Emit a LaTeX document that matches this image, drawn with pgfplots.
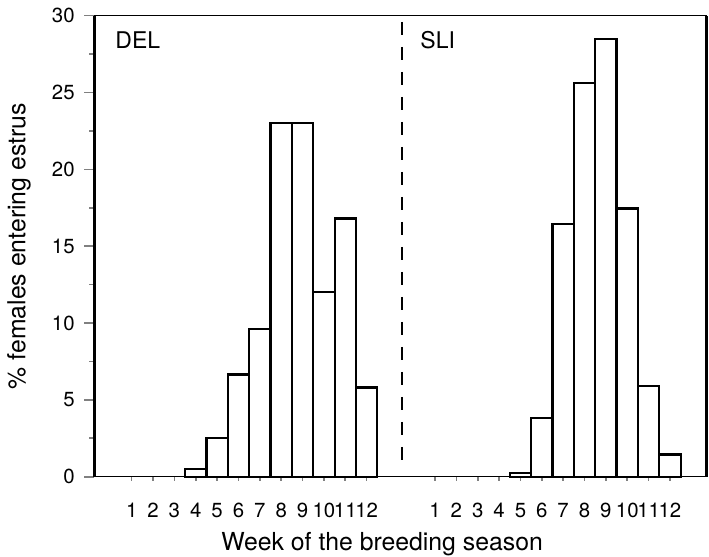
\documentclass[border=0pt]{standalone}
\usepackage{fontspec}
\setmainfont{TeX Gyre Heros}
\usepackage{pgfplots}
\pgfplotsset{compat=1.18}

% DEL weeks sit at x = week, SLI weeks at x = week + 14.2
\pgfplotstableread{
x    y
4    0.48
5    2.5
6    6.65
7    9.6
8    23.0
9    23.0
10   12.0
11   16.8
12   5.8
}\deldata
\pgfplotstableread{
x    y
19.2 0.26
20.2 3.8
21.2 16.45
22.2 25.6
23.2 28.5
24.2 17.45
25.2 5.9
26.2 1.45
}\slidata

\begin{document}
\begin{tikzpicture}
\begin{axis}[
    scale only axis,
    width=306.2pt,
    height=230.5pt,
    xmin=-0.75, xmax=27.92,
    ymin=0, ymax=30,
    ybar, bar width=1, bar shift=0pt,
    xtick={1,2,3,4,5,6,7,8,9,10,11,12,15.2,16.2,17.2,18.2,19.2,20.2,21.2,22.2,23.2,24.2,25.2,26.2},
    xticklabels={1,2,3,4,5,6,7,8,9,10,11,12,1,2,3,4,5,6,7,8,9,10,11,12},
    ytick={0,5,...,30},
    minor y tick num=1,
    tick align=outside,
    tick pos=left,
    major tick length=5pt,
    minor tick length=2.5pt,
    xtick style={/pgfplots/major tick length=2pt, line width=0.8pt},
    ytick style={line width=0.8pt},
    /pgf/number format/assume math mode=true,
    tick label style={font=\fontsize{10.2}{12}\selectfont},
    xticklabel style={yshift=-4.6pt},
    yticklabel style={xshift=-1.3pt},
    label style={font=\fontsize{12.4}{15}\selectfont},
    xlabel={Week of the breeding season},
    ylabel={\% females entering estrus},
    xlabel style={at={(rel axis cs:0.47,-0.159)}, anchor=base},
    ylabel style={at={(rel axis cs:-0.1231,0.5)}, anchor=center},
    axis line style={line width=0.7pt},
    clip=false,
]
\addplot[draw=black, fill=white, line width=1.1pt] table[x=x, y=y] {\deldata};
\addplot[draw=black, fill=white, line width=1.1pt] table[x=x, y=y] {\slidata};
% dashed divider between the two sites
\addplot[ybar=false, sharp plot, no marks, black, line width=1pt, dash pattern=on 6.5pt off 6pt]
  coordinates {(13.67,29.6) (13.67,0.95)};
\draw[line width=1.3pt] (rel axis cs:0,0) -- (rel axis cs:0,1);
\draw[line width=1.3pt] (rel axis cs:1,0) -- (rel axis cs:1,1);
\node[anchor=base west, inner sep=0pt, font=\fontsize{11.5}{13}\selectfont] at (axis cs:0.22,27.87) {DEL};
\node[anchor=base west, inner sep=0pt, font=\fontsize{11.5}{13}\selectfont] at (axis cs:14.5,27.87) {SLI};
\coordinate (sw) at (rel axis cs:0,0);
\coordinate (ne) at (rel axis cs:1,1);
\end{axis}
\pgfresetboundingbox
\path ([xshift=-47.15pt,yshift=-39.65pt]sw) rectangle ([xshift=1.15pt,yshift=7.85pt]ne);
\end{tikzpicture}
\end{document}
